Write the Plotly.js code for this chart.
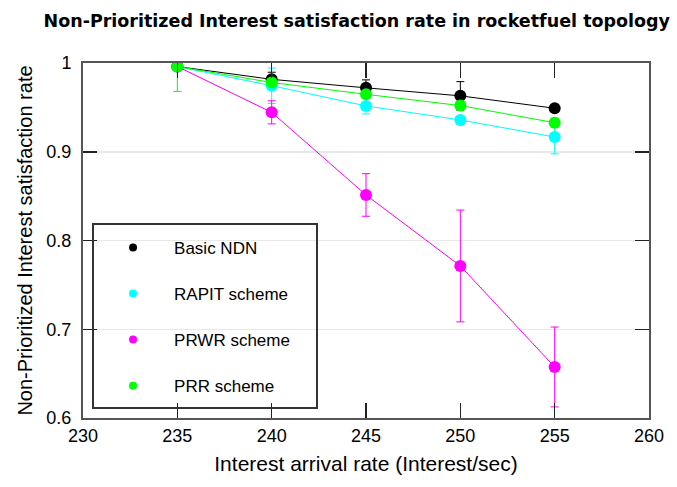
<!DOCTYPE html>
<html>
<head>
<meta charset="utf-8">
<script src="https://cdn.plot.ly/plotly-3.0.1.min.js"></script>
<style>html,body{margin:0;padding:0;background:#fff;}#chart{width:677px;height:487px;}</style>
</head>
<body>
<div id="chart"></div>
<script>
// Data
const rates = [235, 240, 245, 250, 255];
const seriesNames = ["Basic NDN", "RAPIT scheme", "PRWR scheme", "PRR scheme"];
const seriesColors = ["#000000", "#00ffff", "#ff00ff", "#00ff00"];
const basicNDN = [0.996, 0.9816, 0.972, 0.963, 0.949];
const basicNDNErr = [0.004, 0.008, 0.009, 0.016, 0.003];
const rapit = [0.996, 0.9744, 0.9516, 0.9358, 0.9166];
const rapitErr = [0.004, 0.02, 0.009, 0.004, 0.019];
const prwr = [0.996, 0.9444, 0.8513, 0.7713, 0.6575];
const prwrErr = [0.004, 0.013, 0.024, 0.063, 0.045];
const prr = [0.996, 0.978, 0.9647, 0.952, 0.9327];
const prrErr = [0.028, 0.004, 0.004, 0.004, 0.005];
const yTickVals = [0.6, 0.7, 0.8, 0.9, 1];
const yTickText = ["0.6", "0.7", "0.8", "0.9", "1"];
const xTickVals = [230, 235, 240, 245, 250, 255, 260];

const values = [basicNDN, rapit, prwr, prr];
const errs = [basicNDNErr, rapitErr, prwrErr, prrErr];

const traces = [];
values.forEach((v, i) => {
  traces.push({
    x: rates, y: v, type: "scatter", mode: "lines+markers",
    name: seriesNames[i], showlegend: false,
    line: {color: seriesColors[i], width: 1},
    marker: {color: seriesColors[i], size: 12},
    error_y: {type: "data", array: errs[i], visible: true, color: seriesColors[i], thickness: 1, width: 4}
  });
});
// legend-only entries (dot only)
values.forEach((v, i) => {
  traces.push({
    x: [null], y: [null], type: "scatter", mode: "markers",
    name: seriesNames[i], showlegend: true, legendgroup: "g" + i,
    marker: {color: seriesColors[i], size: 8}
  });
});

const layout = {
  width: 677, height: 487,
  paper_bgcolor: "#ffffff", plot_bgcolor: "#ffffff",
  margin: {l: 83, r: 28, t: 63, b: 69},
  font: {family: "Liberation Sans, Arial, sans-serif", color: "#000"},
  title: {
    text: "<b>Non-Prioritized Interest satisfaction rate in rocketfuel topology</b>",
    font: {family: "DejaVu Sans, Verdana, sans-serif", size: 17.5, color: "#000"},
    x: 0.527, xanchor: "center", y: 0.958, yanchor: "middle"
  },
  xaxis: {
    range: [230, 260], tickvals: xTickVals, ticks: "inside", ticklen: 15, tickwidth: 1.5,
    tickcolor: "#222", showline: true, linecolor: "#555", linewidth: 2, mirror: "ticks",
    showgrid: false, zeroline: false, tickfont: {size: 18},
    title: {text: "Interest arrival rate (Interest/sec)", font: {size: 21}, standoff: 12}
  },
  yaxis: {
    range: [0.6, 1.0], tickvals: yTickVals, ticktext: yTickText, ticks: "inside", ticklen: 14, tickwidth: 1.5,
    tickcolor: "#222", showline: true, linecolor: "#555", linewidth: 2, mirror: "ticks",
    showgrid: true, gridcolor: "#e8e8e8", gridwidth: 1.5, zeroline: false, tickfont: {size: 18},
    ticklabelstandoff: 6,
    title: {text: "Non-Prioritized Interest satisfaction rate", font: {size: 20}, standoff: 8}
  },
  showlegend: true,
  legend: {
    x: 0.016, xanchor: "left", y: 0.53, yanchor: "top",
    bgcolor: "rgba(0,0,0,0)", borderwidth: 0,
    font: {size: 17, color: "#000"}, tracegroupgap: 21, traceorder: "grouped", itemwidth: 72
  },
  shapes: [{
    type: "rect", xref: "paper", yref: "paper",
    x0: (93 - 83) / 566, x1: (317 - 83) / 566, y0: (418 - 408) / 355, y1: (418 - 224) / 355,
    line: {color: "#333", width: 2}, fillcolor: "rgba(0,0,0,0)", layer: "above"
  }]
};

Plotly.newPlot("chart", traces, layout, {displayModeBar: false, staticPlot: true});
</script>
</body>
</html>
